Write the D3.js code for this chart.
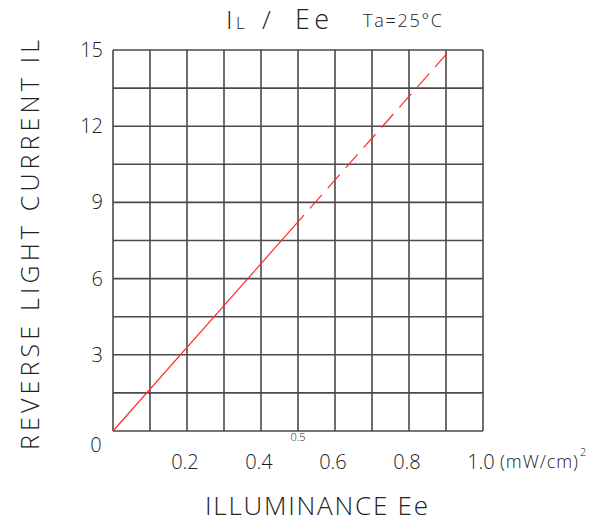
<!DOCTYPE html>
<html>
<head>
<meta charset="utf-8">
<script src="https://cdn.jsdelivr.net/npm/d3@7"></script>
<style>
  body { margin: 0; background: #fff; }
  text { font-family: "Open Sans", "Liberation Sans", sans-serif; font-weight: 300; fill: #222; }
</style>
</head>
<body>
<div id="chart"></div>
<script>
// data
const xTicks = [0.2, 0.4, 0.6, 0.8, 1.0];
const xTickLabels = ["0.2", "0.4", "0.6", "0.8", "1.0"];
const yTicks = [3, 6, 9, 12, 15];
const yTickLabels = ["3", "6", "9", "12", "15"];
const xGrid = d3.range(0, 1.0001, 0.1);
const yGrid = d3.range(0, 15.0001, 1.5);
const solidLine = [[0, 0], [0.516, 8.5]];
const dashedLine = [[0.516, 8.5], [0.911, 15]];

const width = 589, height = 524;
const svg = d3.select("#chart").append("svg").attr("width", width).attr("height", height);

const x = d3.scaleLinear().domain([0, 1]).range([113, 483]);
const y = d3.scaleLinear().domain([0, 15]).range([431, 50]);

// grid
svg.selectAll(".vgrid").data(xGrid).enter().append("line")
    .attr("x1", d => x(d)).attr("x2", d => x(d))
    .attr("y1", y(0)).attr("y2", y(15))
    .style("stroke", "#4a4a4a").style("stroke-width", 1.6);
svg.selectAll(".hgrid").data(yGrid).enter().append("line")
    .attr("x1", x(0)).attr("x2", x(1))
    .attr("y1", d => y(d)).attr("y2", d => y(d))
    .style("stroke", "#4a4a4a").style("stroke-width", 1.6);

// curve
const line = d3.line().x(d => x(d[0])).y(d => y(d[1]));
svg.append("path").attr("d", line(solidLine))
    .style("fill", "none").style("stroke", "#ff2a2a").style("stroke-width", 1.2);
svg.append("path").attr("d", line(dashedLine))
    .style("fill", "none").style("stroke", "#ff2a2a").style("stroke-width", 1.2)
    .style("stroke-dasharray", "0,9,18,0");

// tick labels
svg.selectAll(".xlab").data(xTicks).enter().append("text")
    .attr("x", d => x(d) - 2).attr("y", 469)
    .attr("text-anchor", "middle").style("font-size", "20px")
    .text((d, i) => xTickLabels[i]);
svg.selectAll(".ylab").data(yTicks).enter().append("text")
    .attr("x", 103).attr("y", d => y(d) + 7)
    .attr("text-anchor", "end").style("font-size", "20px")
    .text((d, i) => yTickLabels[i]);
svg.append("text").attr("x", 96).attr("y", 452).attr("text-anchor", "middle")
    .style("font-size", "20px").text("0");
svg.append("text").attr("x", x(0.5)).attr("y", 441).attr("text-anchor", "middle")
    .style("font-size", "11px").text("0.5");

// unit
svg.append("text").attr("x", 500).attr("y", 468).attr("textLength", 78).attr("lengthAdjust", "spacing")
    .style("font-size", "18px").text("(mW/cm)");
svg.append("text").attr("x", 580).attr("y", 456).style("font-size", "11px").text("2");

// title
svg.append("text").attr("x", 226).attr("y", 29).style("font-size", "26px").text("I");
svg.append("text").attr("x", 236).attr("y", 29).style("font-size", "17px").text("L");
svg.append("text").attr("x", 262).attr("y", 29).style("font-size", "26px").text("/");
svg.append("text").attr("x", 295).attr("y", 29).attr("textLength", 34).attr("lengthAdjust", "spacing")
    .style("font-size", "27px").text("Ee");
svg.append("text").attr("x", 363).attr("y", 27).attr("textLength", 79).attr("lengthAdjust", "spacing")
    .style("font-size", "18px").text("Ta=25°C");

// axis titles
svg.append("text").attr("x", 205).attr("y", 515)
    .attr("textLength", 223).attr("lengthAdjust", "spacing")
    .style("font-size", "26px").text("ILLUMINANCE Ee");
svg.append("text").attr("transform", "translate(39,450) rotate(-90)")
    .attr("textLength", 410).attr("lengthAdjust", "spacing")
    .style("font-size", "25px").text("REVERSE LIGHT CURRENT IL");
</script>
</body>
</html>
